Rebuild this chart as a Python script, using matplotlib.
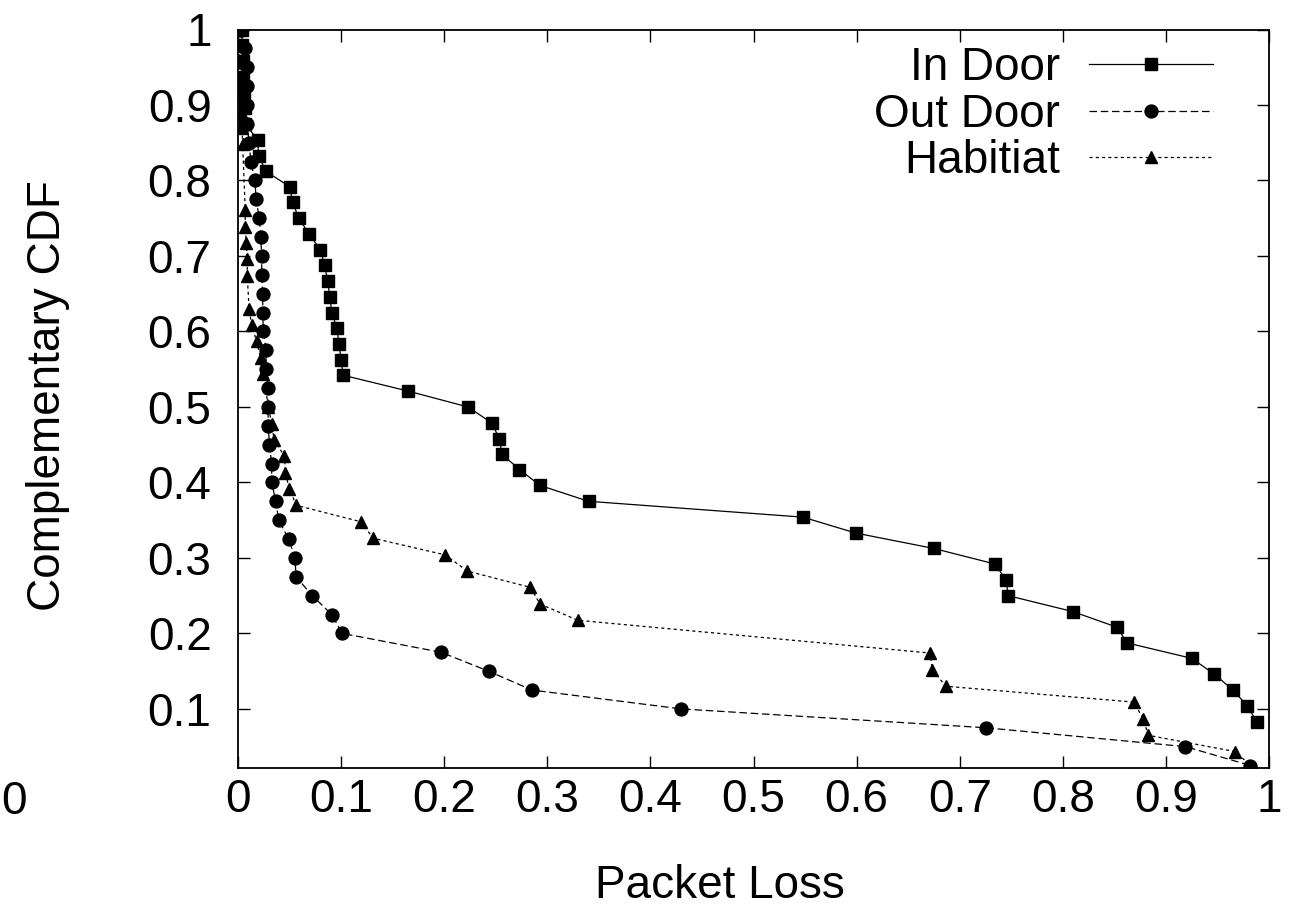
import numpy as np
import matplotlib
matplotlib.use("Agg")
import matplotlib.pyplot as plt

plt.rcParams['font.family'] = ['Liberation Sans', 'DejaVu Sans']

# CCDF points
indoor_x = [0.0036, 0.004, 0.0045, 0.005, 0.006, 0.007, 0.007, 0.019, 0.020, 0.027,
            0.050, 0.053, 0.059, 0.069, 0.080, 0.084, 0.087, 0.089, 0.091, 0.096,
            0.098, 0.100, 0.102, 0.165, 0.223, 0.246, 0.2535, 0.256, 0.273, 0.293,
            0.340, 0.548, 0.599, 0.675, 0.734, 0.745, 0.747, 0.8095, 0.853, 0.862,
            0.925, 0.947, 0.965, 0.979, 0.988]
indoor_y = [1.0, 0.979, 0.958, 0.9375, 0.917, 0.896, 0.875, 0.854, 0.833, 0.812,
            0.792, 0.771, 0.750, 0.729, 0.708, 0.6875, 0.667, 0.646, 0.625, 0.604,
            0.583, 0.5625, 0.542, 0.521, 0.5, 0.479, 0.458, 0.4375, 0.417, 0.396,
            0.375, 0.354, 0.333, 0.3125, 0.292, 0.271, 0.25, 0.229, 0.208, 0.1875,
            0.167, 0.146, 0.125, 0.104, 0.083]

outdoor_x = [0.003, 0.0068, 0.0084, 0.0084, 0.0084, 0.0084, 0.011, 0.0123, 0.0165, 0.0175,
             0.0207, 0.022, 0.023, 0.023, 0.024, 0.024, 0.0246, 0.0272, 0.0272, 0.0288,
             0.029, 0.0294, 0.0304, 0.0327, 0.0327, 0.0366, 0.0395, 0.0492, 0.0553, 0.0563,
             0.0721, 0.0909, 0.1011, 0.197, 0.243, 0.285, 0.4298, 0.7254, 0.919, 0.982]
outdoor_y = [1.0, 0.975, 0.95, 0.925, 0.9, 0.875, 0.85, 0.825, 0.8, 0.775,
             0.75, 0.725, 0.7, 0.675, 0.65, 0.625, 0.6, 0.575, 0.55, 0.525,
             0.5, 0.475, 0.45, 0.425, 0.4, 0.375, 0.35, 0.325, 0.3, 0.275,
             0.25, 0.225, 0.2, 0.175, 0.15, 0.125, 0.1, 0.075, 0.05, 0.025]

habitat_x = [0.0, 0.001, 0.002, 0.002, 0.003, 0.003, 0.004, 0.0045, 0.007, 0.007,
             0.008, 0.009, 0.009, 0.0107, 0.0132, 0.018, 0.0219, 0.0245, 0.0294, 0.0327,
             0.035, 0.045, 0.046, 0.0497, 0.0567, 0.119, 0.1313, 0.201, 0.2224, 0.2836,
             0.2929, 0.3295, 0.6714, 0.6734, 0.6865, 0.869, 0.8778, 0.883, 0.967, 0.985]
habitat_y = [1.0, 0.978, 0.957, 0.935, 0.913, 0.891, 0.870, 0.848, 0.761, 0.739,
             0.717, 0.696, 0.674, 0.630, 0.609, 0.587, 0.565, 0.5435, 0.5, 0.478,
             0.4565, 0.435, 0.413, 0.391, 0.3696, 0.348, 0.326, 0.304, 0.2826, 0.261,
             0.239, 0.2174, 0.174, 0.152, 0.130, 0.109, 0.087, 0.065, 0.0435, 0.0217]

xticks = [0, 0.1, 0.2, 0.3, 0.4, 0.5, 0.6, 0.7, 0.8, 0.9, 1]
xtick_labels = ['0', '0.1', '0.2', '0.3', '0.4', '0.5', '0.6', '0.7', '0.8', '0.9', '1']
yticks = [0.1, 0.2, 0.3, 0.4, 0.5, 0.6, 0.7, 0.8, 0.9, 1]
ytick_labels = ['0.1', '0.2', '0.3', '0.4', '0.5', '0.6', '0.7', '0.8', '0.9', '1']

fig = plt.figure(figsize=(12.97, 9.15), dpi=100)
ax = fig.add_axes([238/1297, 1 - 768/915, (1269 - 238)/1297, (768 - 29.5)/915])

ax.plot(indoor_x, indoor_y, color='black', lw=0.9, marker='s', markersize=9,
        label='In Door')
ax.plot(outdoor_x, outdoor_y, color='black', lw=0.9, linestyle=(0, (6, 3)),
        marker='o', markersize=9.3, label='Out Door')
ax.plot(habitat_x, habitat_y, color='black', lw=0.9, linestyle=(0, (2.5, 2.5)),
        marker='^', markersize=8.5, label='Habitiat')

ax.set_xlim(0, 1)
ax.set_ylim(habitat_y[-1], 1)
ax.set_xticks(xticks)
ax.set_xticklabels(xtick_labels)
ax.set_yticks(yticks)
ax.set_yticklabels(ytick_labels)
ax.tick_params(direction='in', length=8.5, width=1, labelsize=33,
               top=True, right=True)
ax.tick_params(axis='x', pad=7)
ax.tick_params(axis='y', pad=19)
for s in ax.spines.values():
    s.set_linewidth(1.3)

leg = ax.legend(loc='upper right', bbox_to_anchor=((1213 - 238)/1031, 0.977),
                markerfirst=False, frameon=False, fontsize=33, numpoints=1,
                handlelength=2.7, handletextpad=0.63, labelspacing=0.05,
                borderpad=0, borderaxespad=0)

fig.text(720/1297, 1 - 886/915, 'Packet Loss', ha='center', va='center', fontsize=33)
fig.text(48/1297, 1 - 396/915, 'Complementary CDF', ha='center', va='center',
         rotation=90, fontsize=33)
# partly cropped label at the left edge of the original image
fig.text(1/1297, 1 - 802/915, '0', ha='left', va='center', fontsize=33)

fig.savefig('out.png', dpi=100)
